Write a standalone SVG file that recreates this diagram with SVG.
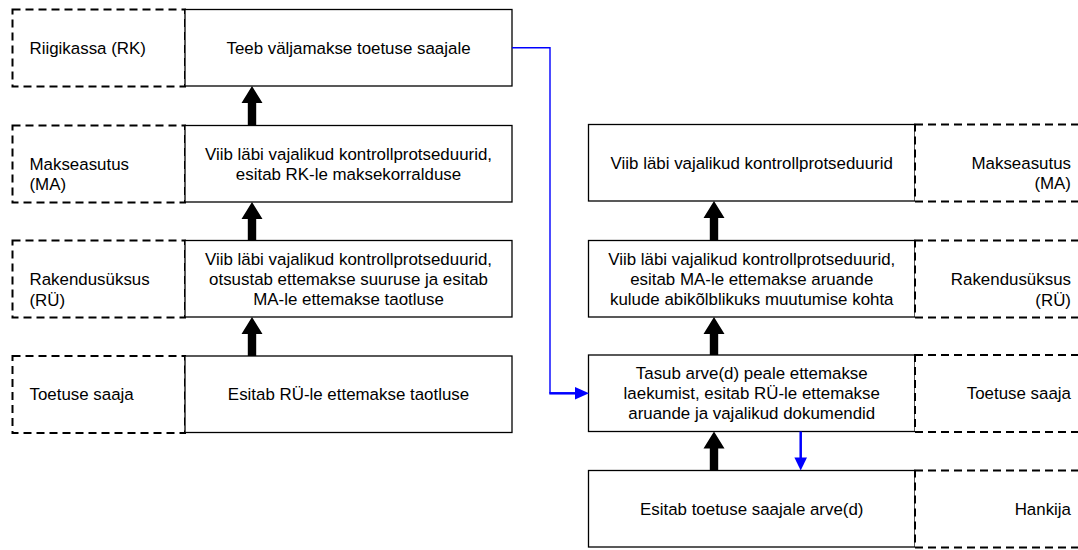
<svg xmlns="http://www.w3.org/2000/svg" width="1078" height="550" viewBox="0 0 1078 550">
<style>
.solid{fill:#fff;stroke:#000;stroke-width:1.3}
.dash{fill:#fff;stroke:#000;stroke-width:2;stroke-dasharray:8 5}
text{font-family:"Liberation Sans",Arial,sans-serif;font-size:16.9px;fill:#000}
.c{text-anchor:middle}
.r{text-anchor:end}
.arr{fill:#000}
.blue{fill:none;stroke:#0000ff}
.bh{fill:#0000ff}
</style>
<rect width="1078" height="550" fill="#fff"/>
<g id="left-rk">
<rect class="dash" x="12.5" y="9.5" width="172.5" height="77"/>
<rect class="solid" x="185" y="9.5" width="327" height="76.5"/>
<text x="29.5" y="53.8">Riigikassa (RK)</text>
<text class="c" x="348.5" y="53.8">Teeb väljamakse toetuse saajale</text>
</g>
<g id="left-ma">
<rect class="dash" x="12.5" y="125.5" width="172.5" height="77"/>
<rect class="solid" x="185" y="125.5" width="327" height="76.5"/>
<text x="29.5" y="169.5">Makseasutus</text>
<text x="29.5" y="190.2">(MA)</text>
<text class="c" x="348.5" y="159.8">Viib läbi vajalikud kontrollprotseduurid,</text>
<text class="c" x="348.5" y="179.7">esitab RK-le maksekorralduse</text>
</g>
<g id="left-ru">
<rect class="dash" x="12.5" y="240.5" width="172.5" height="77"/>
<rect class="solid" x="185" y="240.5" width="327" height="76.5"/>
<text x="29.5" y="285">Rakendusüksus</text>
<text x="29.5" y="306">(RÜ)</text>
<text class="c" x="348.5" y="264.7">Viib läbi vajalikud kontrollprotseduurid,</text>
<text class="c" x="348.5" y="284.6">otsustab ettemakse suuruse ja esitab</text>
<text class="c" x="348.5" y="304.5">MA-le ettemakse taotluse</text>
</g>
<g id="left-ts">
<rect class="dash" x="12.5" y="356" width="172.5" height="77"/>
<rect class="solid" x="185" y="356" width="327" height="76.5"/>
<text x="29.5" y="400">Toetuse saaja</text>
<text class="c" x="348.5" y="400">Esitab RÜ-le ettemakse taotluse</text>
</g>
<g id="right-ma">
<rect class="solid" x="588.5" y="124.5" width="326.5" height="76.5"/>
<rect class="dash" x="915" y="124.5" width="180" height="77"/>
<text class="c" x="751.75" y="168.5">Viib läbi vajalikud kontrollprotseduurid</text>
<text class="r" x="1071" y="168.5">Makseasutus</text>
<text class="r" x="1071" y="189.2">(MA)</text>
</g>
<g id="right-ru">
<rect class="solid" x="588.5" y="240.5" width="326.5" height="76.5"/>
<rect class="dash" x="915" y="240.5" width="180" height="77"/>
<text class="c" x="751.75" y="264.7">Viib läbi vajalikud kontrollprotseduurid,</text>
<text class="c" x="751.75" y="284.6">esitab MA-le ettemakse aruande</text>
<text class="c" x="751.75" y="304.5">kulude abikõlblikuks muutumise kohta</text>
<text class="r" x="1071" y="285">Rakendusüksus</text>
<text class="r" x="1071" y="306">(RÜ)</text>
</g>
<g id="right-ts">
<rect class="solid" x="588.5" y="355" width="326.5" height="76.5"/>
<rect class="dash" x="915" y="355" width="180" height="77"/>
<text class="c" x="751.75" y="379.2">Tasub arve(d) peale ettemakse</text>
<text class="c" x="751.75" y="399">laekumist, esitab RÜ-le ettemakse</text>
<text class="c" x="751.75" y="418.8">aruande ja vajalikud dokumendid</text>
<text class="r" x="1071" y="399">Toetuse saaja</text>
</g>
<g id="right-h">
<rect class="solid" x="588.5" y="470.5" width="326.5" height="76.5"/>
<rect class="dash" x="915" y="470.5" width="180" height="77"/>
<text class="c" x="751.75" y="514.5">Esitab toetuse saajale arve(d)</text>
<text class="r" x="1071" y="514.5">Hankija</text>
</g>
<g id="connectors">
<polygon class="arr" points="252,86 262.5,103 256.2,103 256.2,125.5 247.8,125.5 247.8,103 241.5,103"/>
<polygon class="arr" points="252,202 262.5,219 256.2,219 256.2,240.5 247.8,240.5 247.8,219 241.5,219"/>
<polygon class="arr" points="252,317 262.5,334 256.2,334 256.2,356 247.8,356 247.8,334 241.5,334"/>
<polygon class="arr" points="714,201 724.5,218 718.2,218 718.2,240.5 709.8,240.5 709.8,218 703.5,218"/>
<polygon class="arr" points="714,317 724.5,334 718.2,334 718.2,355 709.8,355 709.8,334 703.5,334"/>
<polygon class="arr" points="714,431.5 724.5,448.5 718.2,448.5 718.2,470.5 709.8,470.5 709.8,448.5 703.5,448.5"/>
<path class="blue" stroke-width="1.4" d="M512 47.7 H550 V393.5"/>
<path class="blue" stroke-width="2.5" d="M549.3 393.3 H577"/>
<polygon class="bh" points="575,387 589,393.3 575,399.6"/>
<path class="blue" stroke-width="2.5" d="M800.7 431.5 V459"/>
<polygon class="bh" points="794.4,457.5 807,457.5 800.7,470.5"/>
</g>
</svg>
